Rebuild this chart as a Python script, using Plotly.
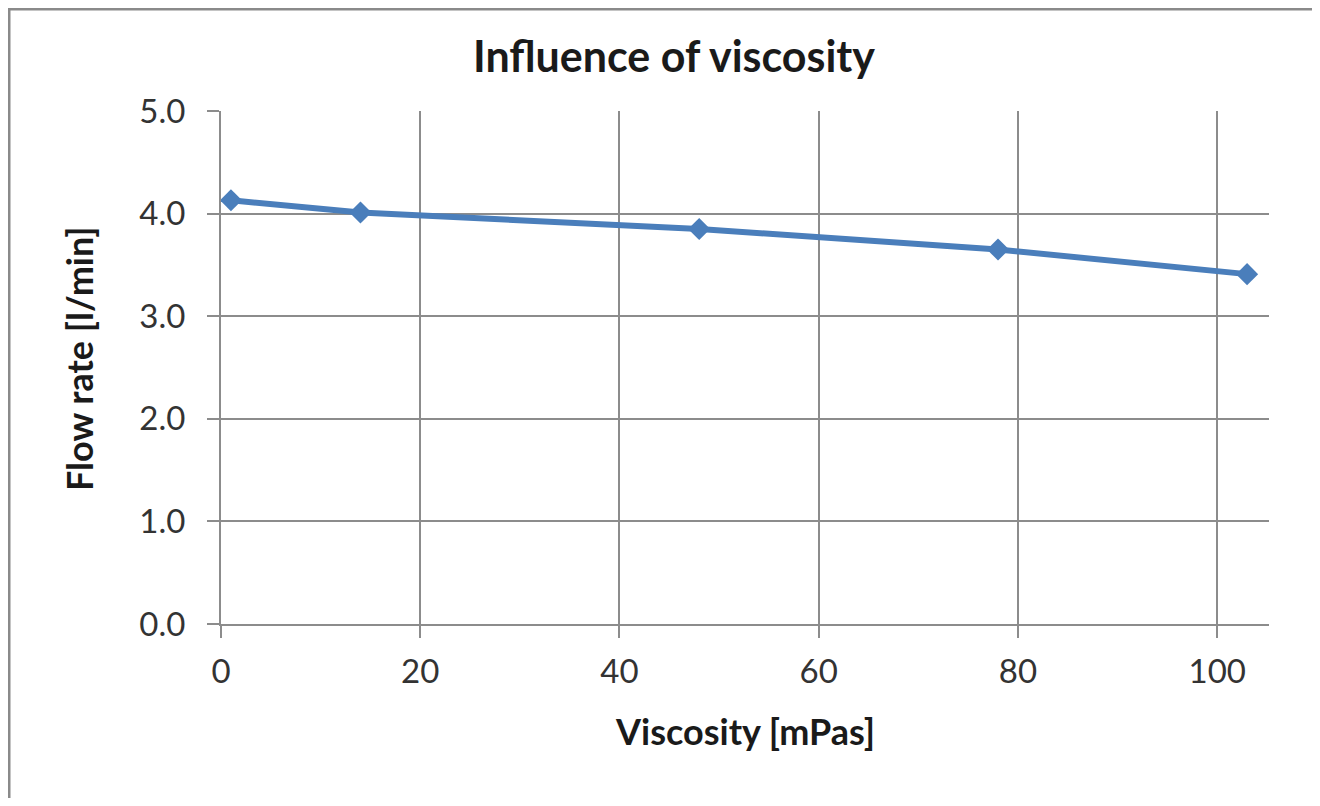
import plotly.graph_objects as go

viscosity = [1, 14, 48, 78, 103]
flow_rate = [4.13, 4.01, 3.85, 3.65, 3.41]
x_ticks = [0, 20, 40, 60, 80, 100]
y_ticks = [0.0, 1.0, 2.0, 3.0, 4.0, 5.0]

FONT = "Lato"
GRID = "#8c8c8c"
TEXT = "#1a1a1a"
BORDER = "#8a8a8a"

# page has an 8px body margin on every side; keep the figure inside the window
OFF = 8
W, H = 1320 - 2 * OFF, 806 - 2 * OFF
PL, PR, PT, PB = 221, 1269, 111, 624   # plot area in screen pixels
L, R, T, B = PL - OFF, W - (PR - OFF), PT - OFF, H - (PB - OFF)

def px(xs):
    return (xs - PL) / (PR - PL)

def py(ys):
    return (PB - ys) / (PB - PT)

fig = go.Figure()
fig.add_trace(go.Scatter(
    x=viscosity, y=flow_rate, mode="lines+markers",
    line=dict(color="#4a7ebb", width=6),
    marker=dict(symbol="diamond", size=17, color="#4a7ebb"),
    showlegend=False,
))

fig.update_layout(
    width=W, height=H,
    margin=dict(l=L, r=R, t=T, b=B, autoexpand=False),
    paper_bgcolor="white", plot_bgcolor="white",
    title=dict(text="<b>Influence of viscosity</b>", xref="container", yref="container",
               x=(674 - OFF) / W, y=1 - (57 - OFF) / H, xanchor="center", yanchor="middle",
               font=dict(family=FONT, size=43, color=TEXT)),
    xaxis=dict(range=[0, 105.2], tickvals=x_ticks, ticktext=[str(v) for v in x_ticks],
               showgrid=True, gridcolor=GRID, gridwidth=2,
               showline=True, linecolor=GRID, linewidth=2,
               ticks="outside", ticklen=12, tickwidth=2, tickcolor=GRID,
               tickfont=dict(family=FONT, size=33, color="#333333"),
               ticklabelstandoff=5, zeroline=False),
    yaxis=dict(range=[0, 5], tickvals=y_ticks, ticktext=[f"{v:.1f}" for v in y_ticks],
               showgrid=True, gridcolor=GRID, gridwidth=2,
               showline=True, linecolor=GRID, linewidth=2,
               ticks="outside", ticklen=12, tickwidth=2, tickcolor=GRID,
               tickfont=dict(family=FONT, size=33, color="#333333"),
               ticklabelstandoff=15, zeroline=False),
    shapes=[
        dict(type="rect", xref="paper", yref="paper",
             x0=px(8), x1=px(10.5), y0=py(900), y1=py(8),
             line=dict(width=0), fillcolor=BORDER),
        dict(type="rect", xref="paper", yref="paper",
             x0=px(8), x1=px(1330), y0=py(10.5), y1=py(8),
             line=dict(width=0), fillcolor=BORDER),
    ],
    annotations=[
        dict(text="<b>Viscosity [mPas]</b>", xref="paper", yref="paper",
             x=px(745), y=py(731), xanchor="center", yanchor="middle", showarrow=False,
             font=dict(family=FONT, size=36, color=TEXT)),
        dict(text="<b>Flow rate [l/min]</b>", xref="paper", yref="paper",
             x=px(79), y=py(359), xanchor="center", yanchor="middle", showarrow=False,
             textangle=-90, font=dict(family=FONT, size=36, color=TEXT)),
    ],
)

fig.write_html("out.html")
